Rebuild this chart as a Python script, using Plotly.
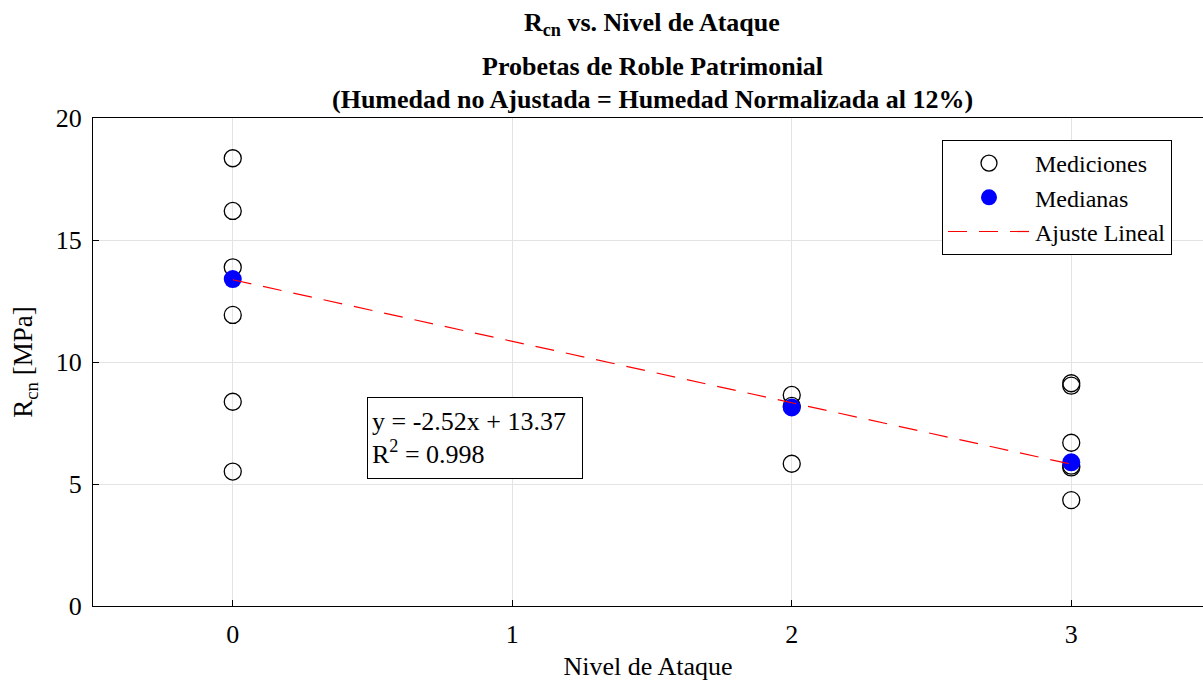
import plotly.graph_objects as go

# Data
nivel_mediciones = [0, 0, 0, 0, 0, 0, 2, 2, 2, 3, 3, 3, 3, 3, 3]
rcn_mediciones = [18.35, 16.19, 13.88, 11.93, 8.37, 5.51,
                  8.65, 8.20, 5.83,
                  9.13, 9.03, 6.69, 5.75, 5.68, 4.34]
nivel_medianas = [0, 2, 3]
rcn_medianas = [13.40, 8.14, 5.89]
pendiente = -2.52
intercepto = 13.37
r2 = 0.998
x_ticks = [0, 1, 2, 3]
y_ticks = [0, 5, 10, 15, 20]

FONT = "Liberation Serif"
FS = 26

fit_x = [min(nivel_medianas), max(nivel_medianas)]
fit_y = [pendiente * x + intercepto for x in fit_x]

fig = go.Figure()
fig.add_trace(go.Scatter(
    x=nivel_mediciones, y=rcn_mediciones, mode="markers", name="Mediciones",
    marker=dict(symbol="circle-open", size=17, color="black", line=dict(width=1.3, color="black")),
))
fig.add_trace(go.Scatter(
    x=nivel_medianas, y=rcn_medianas, mode="markers", name="Medianas",
    marker=dict(symbol="circle", size=18, color="#0000ff", line=dict(width=0)),
))
fig.add_trace(go.Scatter(
    x=fit_x, y=fit_y, mode="lines", name="Ajuste Lineal",
    line=dict(color="red", width=1.2, dash="19px,12px"),
))

# Full-window figure (body margin removed below); plot area x 93..1203, y 118..606
W, H = 1203, 681
L, T, B = 93, 118, 75
PW = W - L  # 1110 px
PX_PER_UNIT = 279.5
x_max = -0.5 + PW / PX_PER_UNIT

fig.update_layout(
    width=W, height=H,
    margin=dict(l=L, r=0, t=T, b=B, autoexpand=False),
    paper_bgcolor="white", plot_bgcolor="white",
    font=dict(family=FONT, size=FS, color="black"),
    showlegend=True,
    legend=dict(
        x=(942 - 93) / PW, y=(606 - 140) / 488, xanchor="left", yanchor="top",
        bgcolor="white", bordercolor="black", borderwidth=1,
        font=dict(family=FONT, size=24, color="black"),
        itemwidth=82, tracegroupgap=0,
    ),
    xaxis=dict(
        range=[-0.5, x_max], tickvals=x_ticks, ticktext=[str(t) for t in x_ticks],
        showgrid=True, gridcolor="#e3e3e3", gridwidth=1,
        showline=True, linecolor="black", linewidth=1, mirror=True,
        ticks="inside", ticklen=6, tickcolor="black", zeroline=False,
        ticklabelstandoff=5, automargin=False,
        title=dict(text="Nivel de Ataque", font=dict(family=FONT, size=FS), standoff=18),
        tickfont=dict(family=FONT, size=FS),
    ),
    yaxis=dict(
        range=[0, 20], tickvals=y_ticks, ticktext=[str(t) for t in y_ticks],
        showgrid=True, gridcolor="#e3e3e3", gridwidth=1,
        showline=True, linecolor="black", linewidth=1, mirror=False,
        ticks="inside", ticklen=6, tickcolor="black", zeroline=False,
        ticklabelstandoff=5, automargin=False,
        title=dict(text="R<sub>cn</sub> [MPa]", font=dict(family=FONT, size=27), standoff=15),
        tickfont=dict(family=FONT, size=FS),
    ),
)

# Title lines
titles = [
    ("<b>R<sub>cn</sub> vs. Nivel de Ataque</b>", 24),
    ("<b>Probetas de Roble Patrimonial</b>", 67),
    ("<b>(Humedad no Ajustada = Humedad Normalizada al 12%)</b>", 99),
]
for txt, py in titles:
    fig.add_annotation(text=txt, xref="paper", yref="paper",
                       x=(652 - 93) / PW, y=(606 - py) / 488, xanchor="center", yanchor="middle",
                       showarrow=False, font=dict(family=FONT, size=FS))

# Equation box
fig.add_annotation(
    text=f"y = {pendiente:.2f}x + {intercepto:.2f}<br>R<sup>2</sup> = {r2:.3f}",
    xref="paper", yref="paper", x=(367 - 93) / PW, y=(606 - 397) / 488,
    xanchor="left", yanchor="top", showarrow=False, align="left", valign="middle",
    width=206, height=72, borderpad=4,
    bgcolor="white", bordercolor="black", borderwidth=1,
    font=dict(family=FONT, size=FS, color="black"),
)

fig.write_html("out.html",
               config={"displayModeBar": False},
               post_script="document.body.style.margin='0px';document.body.style.overflow='hidden';")
